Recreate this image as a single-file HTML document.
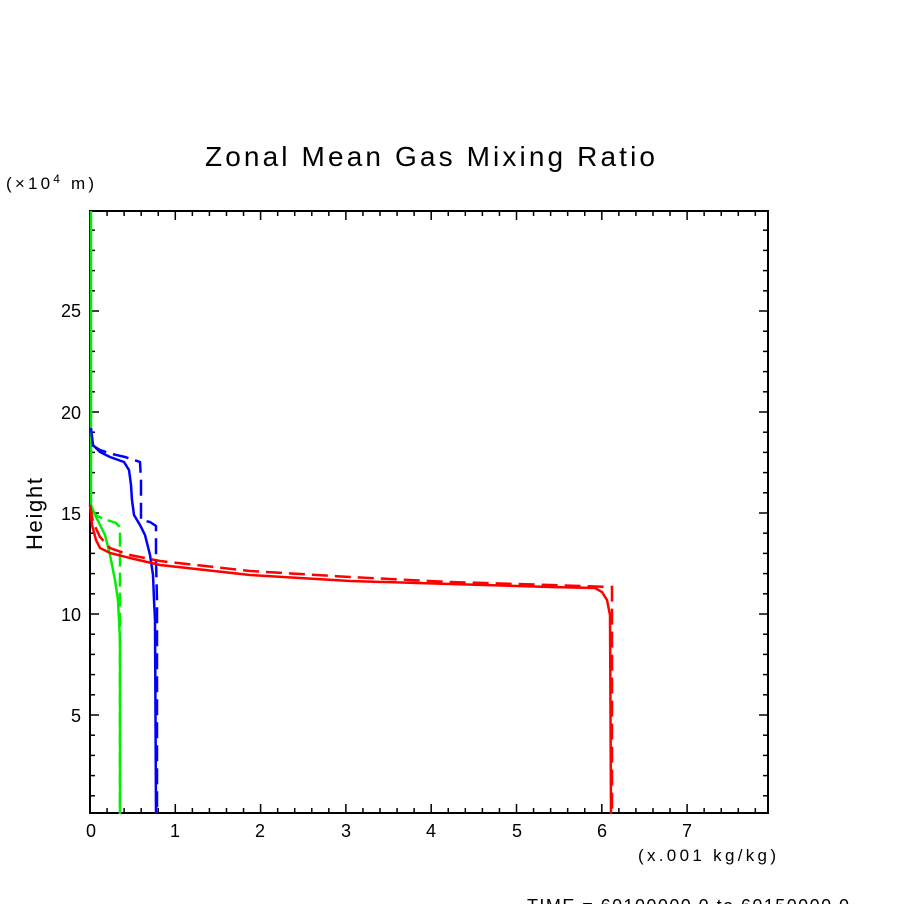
<!DOCTYPE html>
<html><head><meta charset="utf-8"><style>
html,body{margin:0;padding:0;background:#fff;}
svg{display:block;}
text{font-family:"Liberation Sans",sans-serif;fill:#000;}
</style></head><body>
<svg width="904" height="904" viewBox="0 0 904 904" xmlns="http://www.w3.org/2000/svg">
<rect width="904" height="904" fill="#fff"/>
<text x="205" y="166" font-size="28" textLength="450" lengthAdjust="spacing">Zonal Mean Gas Mixing Ratio</text>
<text x="6" y="189" font-size="17" textLength="88" lengthAdjust="spacing">(×10<tspan font-size="12" dy="-6">4</tspan><tspan dy="6"> m)</tspan></text>
<text x="42" y="514" font-size="22" text-anchor="middle" textLength="72" lengthAdjust="spacing" transform="rotate(-90 42 514)">Height</text>
<text x="638" y="861" font-size="17" textLength="138" lengthAdjust="spacing">(x.001 kg/kg)</text>
<text x="527" y="912" font-size="18" textLength="322" lengthAdjust="spacing">TIME = 60100000.0 to 60150000.0</text>
<g id="ticks" stroke="#000" stroke-width="1.5"></g>
<rect x="90" y="211" width="678" height="602" fill="none" stroke="#000" stroke-width="2"/>
<g font-size="18" text-anchor="end">
<text x="81" y="722">5</text><text x="81" y="621">10</text><text x="81" y="520">15</text><text x="81" y="419">20</text><text x="81" y="317">25</text>
</g>
<g font-size="18" text-anchor="middle">
<text x="91" y="837">0</text><text x="175" y="837">1</text><text x="260" y="837">2</text><text x="346" y="837">3</text><text x="431" y="837">4</text><text x="517" y="837">5</text><text x="602" y="837">6</text><text x="687" y="837">7</text>
</g>
<g fill="none" stroke-width="2.5">
<polyline stroke="#00ee00" points="91,211 91,505 95,515 100,525 105,535 110,555 115,580 118,600 119,620 120,640 120,814"/>
<polyline stroke="#00ee00" stroke-dasharray="14,6" points="91,510 97,516 104,519 110,521 116,523 120,527 120,814"/>
<polyline stroke="#0000ff" points="91,428 93,445 100,452 110,457 124,462 129,470 131,485 132,500 134,515 140,525 145,535 150,555 153,575 154,600 155,620 156,814"/>
<polyline stroke="#0000ff" stroke-dasharray="16,7" points="92,445 100,450 112,454 125,457 140,462 141,480 141,520 150,522 156,526 156,560 157,600 157,814"/>
<polyline stroke="#ff0000" points="90,505 92,525 96,540 100,548 110,553 130,558 160,565 250,575 350,581 450,584 550,587 595,588 602,592 607,600 610,615 611,814"/>
<polyline stroke="#ff0000" stroke-dasharray="16,7" points="90,505 93,522 100,537 110,548 130,555 160,561 250,571 350,577 450,582 550,585 612,587 612,600 612,814"/>
</g>
</svg>
<script>
(function(){
var g=document.getElementById('ticks'),s='';
function l(x1,y1,x2,y2){s+='<line x1="'+x1+'" y1="'+y1+'" x2="'+x2+'" y2="'+y2+'"/>';}
var px=85.3;
for(var i=0;i<=39;i++){var x=90+i*px/5;if(x>768)break;var L=(i%5==0)?9:5;l(x,813,x,813-L);l(x,211,x,211+L);}
var py=20.2;
for(var j=1;j<=29;j++){var y=816-j*py;if(y<211)break;var L=(j%5==0)?9:5;l(90,y,90+L,y);l(768,y,768-L,y);}
g.innerHTML=s;
})();
</script>
</body></html>
